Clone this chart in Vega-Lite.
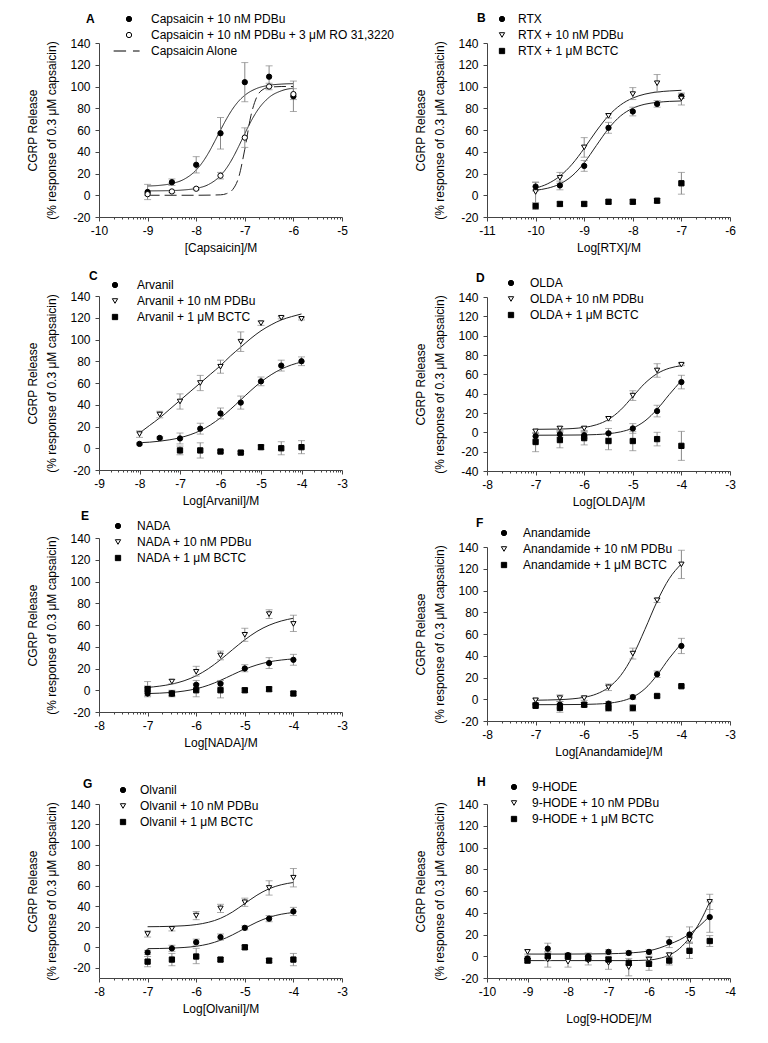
{
"autosize":{"type":"none"},
"padding":{"left":99,"top":43,"right":669,"bottom":1000},
"config":{
 "font":"Liberation Sans",
 "view":{"stroke":null},
 "axis":{"labelFontSize":12,"titleFontSize":12,"titleFontWeight":"normal","labelColor":"black","titleColor":"black","domainColor":"#444","tickColor":"#444","grid":false,"labelFlush":false,"labelOverlap":false},
 "legend":{"orient":"none","labelFontSize":12,"labelColor":"black","padding":0,"rowPadding":4,"symbolStrokeColor":"black","symbolStrokeWidth":1,"labelLimit":0,"symbolSize":28},
 "title":{"fontSize":12,"fontWeight":"bold","anchor":"start","frame":"group","color":"black","baseline":"bottom"}
},
"datasets":{
"pts":[
{"p":"A","s":"Capsaicin + 10 nM PDBu","x":-9,"y":3,"lo":-4,"hi":10},
{"p":"A","s":"Capsaicin + 10 nM PDBu","x":-8.5,"y":12,"lo":9,"hi":15},
{"p":"A","s":"Capsaicin + 10 nM PDBu","x":-8,"y":28,"lo":20.5,"hi":35.5},
{"p":"A","s":"Capsaicin + 10 nM PDBu","x":-7.5,"y":57,"lo":42.5,"hi":71.5},
{"p":"A","s":"Capsaicin + 10 nM PDBu","x":-7,"y":104,"lo":86,"hi":122},
{"p":"A","s":"Capsaicin + 10 nM PDBu","x":-6.5,"y":109,"lo":100,"hi":119},
{"p":"A","s":"Capsaicin + 10 nM PDBu","x":-6,"y":91,"lo":77,"hi":105},
{"p":"A","s":"Capsaicin + 10 nM PDBu + 3 μM RO 31,3220","x":-9,"y":1,"lo":0,"hi":2},
{"p":"A","s":"Capsaicin + 10 nM PDBu + 3 μM RO 31,3220","x":-8.5,"y":3.5,"lo":2.5,"hi":4.5},
{"p":"A","s":"Capsaicin + 10 nM PDBu + 3 μM RO 31,3220","x":-8,"y":6,"lo":5,"hi":7},
{"p":"A","s":"Capsaicin + 10 nM PDBu + 3 μM RO 31,3220","x":-7.5,"y":18,"lo":15,"hi":21},
{"p":"A","s":"Capsaicin + 10 nM PDBu + 3 μM RO 31,3220","x":-7,"y":53,"lo":44,"hi":62},
{"p":"A","s":"Capsaicin + 10 nM PDBu + 3 μM RO 31,3220","x":-6.5,"y":100,"lo":97,"hi":103},
{"p":"A","s":"Capsaicin + 10 nM PDBu + 3 μM RO 31,3220","x":-6,"y":93,"lo":88,"hi":98},
{"p":"B","s":"RTX","x":-10,"y":8,"lo":4,"hi":12},
{"p":"B","s":"RTX","x":-9.5,"y":9,"lo":5,"hi":13},
{"p":"B","s":"RTX","x":-9,"y":27,"lo":22,"hi":32},
{"p":"B","s":"RTX","x":-8.5,"y":62,"lo":57,"hi":67},
{"p":"B","s":"RTX","x":-8,"y":77,"lo":73,"hi":81},
{"p":"B","s":"RTX","x":-7.5,"y":84,"lo":81,"hi":87},
{"p":"B","s":"RTX","x":-7,"y":91,"lo":89,"hi":93},
{"p":"B","s":"RTX + 10 nM PDBu","x":-10,"y":3,"lo":-7,"hi":12},
{"p":"B","s":"RTX + 10 nM PDBu","x":-9.5,"y":16,"lo":11,"hi":21},
{"p":"B","s":"RTX + 10 nM PDBu","x":-9,"y":44,"lo":35,"hi":53},
{"p":"B","s":"RTX + 10 nM PDBu","x":-8.5,"y":73,"lo":71,"hi":75},
{"p":"B","s":"RTX + 10 nM PDBu","x":-8,"y":93,"lo":88,"hi":99},
{"p":"B","s":"RTX + 10 nM PDBu","x":-7.5,"y":103,"lo":95,"hi":111},
{"p":"B","s":"RTX + 10 nM PDBu","x":-7,"y":89,"lo":83,"hi":94},
{"p":"B","s":"RTX + 1 μM BCTC","x":-10,"y":-10,"lo":-13,"hi":-7},
{"p":"B","s":"RTX + 1 μM BCTC","x":-9.5,"y":-8,"lo":-10,"hi":-6},
{"p":"B","s":"RTX + 1 μM BCTC","x":-9,"y":-8,"lo":-10,"hi":-6},
{"p":"B","s":"RTX + 1 μM BCTC","x":-8.5,"y":-6,"lo":-8,"hi":-4},
{"p":"B","s":"RTX + 1 μM BCTC","x":-8,"y":-6,"lo":-8,"hi":-4},
{"p":"B","s":"RTX + 1 μM BCTC","x":-7.5,"y":-5,"lo":-7,"hi":-3},
{"p":"B","s":"RTX + 1 μM BCTC","x":-7,"y":11,"lo":1,"hi":21},
{"p":"C","s":"Arvanil","x":-8,"y":4,"lo":3,"hi":5},
{"p":"C","s":"Arvanil","x":-7.5,"y":9.5,"lo":8.5,"hi":10.5},
{"p":"C","s":"Arvanil","x":-7,"y":9,"lo":4,"hi":14},
{"p":"C","s":"Arvanil","x":-6.5,"y":18,"lo":13,"hi":23},
{"p":"C","s":"Arvanil","x":-6,"y":32,"lo":27,"hi":37},
{"p":"C","s":"Arvanil","x":-5.5,"y":42,"lo":36,"hi":48},
{"p":"C","s":"Arvanil","x":-5,"y":61.5,"lo":57.5,"hi":65.5},
{"p":"C","s":"Arvanil","x":-4.5,"y":76,"lo":71,"hi":81},
{"p":"C","s":"Arvanil","x":-4,"y":80,"lo":76,"hi":84},
{"p":"C","s":"Arvanil + 10 nM PDBu","x":-8,"y":13,"lo":10,"hi":16},
{"p":"C","s":"Arvanil + 10 nM PDBu","x":-7.5,"y":31,"lo":28,"hi":34},
{"p":"C","s":"Arvanil + 10 nM PDBu","x":-7,"y":43,"lo":36,"hi":50},
{"p":"C","s":"Arvanil + 10 nM PDBu","x":-6.5,"y":60,"lo":53,"hi":67},
{"p":"C","s":"Arvanil + 10 nM PDBu","x":-6,"y":75,"lo":69,"hi":81},
{"p":"C","s":"Arvanil + 10 nM PDBu","x":-5.5,"y":98,"lo":89,"hi":107},
{"p":"C","s":"Arvanil + 10 nM PDBu","x":-5,"y":115,"lo":113,"hi":117},
{"p":"C","s":"Arvanil + 10 nM PDBu","x":-4.5,"y":120,"lo":119,"hi":121},
{"p":"C","s":"Arvanil + 10 nM PDBu","x":-4,"y":119,"lo":118,"hi":120},
{"p":"C","s":"Arvanil + 1 μM BCTC","x":-7,"y":-2,"lo":-6,"hi":2},
{"p":"C","s":"Arvanil + 1 μM BCTC","x":-6.5,"y":-2,"lo":-9,"hi":5},
{"p":"C","s":"Arvanil + 1 μM BCTC","x":-6,"y":-3,"lo":-4,"hi":-2},
{"p":"C","s":"Arvanil + 1 μM BCTC","x":-5.5,"y":-4,"lo":-5,"hi":-3},
{"p":"C","s":"Arvanil + 1 μM BCTC","x":-5,"y":1,"lo":-1,"hi":3},
{"p":"C","s":"Arvanil + 1 μM BCTC","x":-4.5,"y":0,"lo":-6,"hi":6},
{"p":"C","s":"Arvanil + 1 μM BCTC","x":-4,"y":1,"lo":-5,"hi":7},
{"p":"D","s":"OLDA","x":-7,"y":-4,"lo":-7,"hi":-1},
{"p":"D","s":"OLDA","x":-6.5,"y":-2,"lo":-5,"hi":1},
{"p":"D","s":"OLDA","x":-6,"y":-3,"lo":-6,"hi":0},
{"p":"D","s":"OLDA","x":-5.5,"y":-1,"lo":-6,"hi":4},
{"p":"D","s":"OLDA","x":-5,"y":4,"lo":-1,"hi":9},
{"p":"D","s":"OLDA","x":-4.5,"y":22,"lo":16,"hi":28},
{"p":"D","s":"OLDA","x":-4,"y":52,"lo":45,"hi":59},
{"p":"D","s":"OLDA + 10 nM PDBu","x":-7,"y":1,"lo":-1,"hi":3},
{"p":"D","s":"OLDA + 10 nM PDBu","x":-6.5,"y":4,"lo":2,"hi":6},
{"p":"D","s":"OLDA + 10 nM PDBu","x":-6,"y":4,"lo":2,"hi":6},
{"p":"D","s":"OLDA + 10 nM PDBu","x":-5.5,"y":14,"lo":12,"hi":16},
{"p":"D","s":"OLDA + 10 nM PDBu","x":-5,"y":38,"lo":33,"hi":43},
{"p":"D","s":"OLDA + 10 nM PDBu","x":-4.5,"y":64,"lo":57,"hi":71},
{"p":"D","s":"OLDA + 10 nM PDBu","x":-4,"y":70,"lo":69,"hi":71},
{"p":"D","s":"OLDA + 1 μM BCTC","x":-7,"y":-10,"lo":-20,"hi":0},
{"p":"D","s":"OLDA + 1 μM BCTC","x":-6.5,"y":-8,"lo":-16,"hi":0},
{"p":"D","s":"OLDA + 1 μM BCTC","x":-6,"y":-6,"lo":-13,"hi":1},
{"p":"D","s":"OLDA + 1 μM BCTC","x":-5.5,"y":-9,"lo":-18,"hi":0},
{"p":"D","s":"OLDA + 1 μM BCTC","x":-5,"y":-9,"lo":-19,"hi":1},
{"p":"D","s":"OLDA + 1 μM BCTC","x":-4.5,"y":-7,"lo":-14,"hi":0},
{"p":"D","s":"OLDA + 1 μM BCTC","x":-4,"y":-14,"lo":-29,"hi":1},
{"p":"E","s":"NADA","x":-7,"y":-3,"lo":-5,"hi":-1},
{"p":"E","s":"NADA","x":-6.5,"y":-3,"lo":-6,"hi":0},
{"p":"E","s":"NADA","x":-6,"y":5,"lo":1,"hi":9},
{"p":"E","s":"NADA","x":-5.5,"y":6,"lo":3,"hi":9},
{"p":"E","s":"NADA","x":-5,"y":20,"lo":17,"hi":23.5},
{"p":"E","s":"NADA","x":-4.5,"y":25,"lo":20,"hi":30},
{"p":"E","s":"NADA","x":-4,"y":28,"lo":23,"hi":33},
{"p":"E","s":"NADA + 10 nM PDBu","x":-7,"y":1,"lo":-6,"hi":8},
{"p":"E","s":"NADA + 10 nM PDBu","x":-6.5,"y":8,"lo":6,"hi":10},
{"p":"E","s":"NADA + 10 nM PDBu","x":-6,"y":17,"lo":13,"hi":22},
{"p":"E","s":"NADA + 10 nM PDBu","x":-5.5,"y":32,"lo":28,"hi":36},
{"p":"E","s":"NADA + 10 nM PDBu","x":-5,"y":51,"lo":45,"hi":57},
{"p":"E","s":"NADA + 10 nM PDBu","x":-4.5,"y":70,"lo":66,"hi":74},
{"p":"E","s":"NADA + 10 nM PDBu","x":-4,"y":61,"lo":54,"hi":69},
{"p":"E","s":"NADA + 1 μM BCTC","x":-7,"y":1,"lo":-2,"hi":4},
{"p":"E","s":"NADA + 1 μM BCTC","x":-6.5,"y":-3,"lo":-5,"hi":-1},
{"p":"E","s":"NADA + 1 μM BCTC","x":-6,"y":0,"lo":-6,"hi":6},
{"p":"E","s":"NADA + 1 μM BCTC","x":-5.5,"y":0,"lo":-7,"hi":7},
{"p":"E","s":"NADA + 1 μM BCTC","x":-5,"y":0,"lo":-2,"hi":2},
{"p":"E","s":"NADA + 1 μM BCTC","x":-4.5,"y":1,"lo":-1,"hi":3},
{"p":"E","s":"NADA + 1 μM BCTC","x":-4,"y":-3,"lo":-5,"hi":-1},
{"p":"F","s":"Anandamide","x":-7,"y":-5,"lo":-7,"hi":-3},
{"p":"F","s":"Anandamide","x":-6.5,"y":-5,"lo":-8,"hi":-2},
{"p":"F","s":"Anandamide","x":-6,"y":-5,"lo":-7,"hi":-3},
{"p":"F","s":"Anandamide","x":-5.5,"y":-4,"lo":-6,"hi":-2},
{"p":"F","s":"Anandamide","x":-5,"y":2,"lo":0,"hi":4},
{"p":"F","s":"Anandamide","x":-4.5,"y":23,"lo":20,"hi":26},
{"p":"F","s":"Anandamide","x":-4,"y":49,"lo":42,"hi":56},
{"p":"F","s":"Anandamide + 10 nM PDBu","x":-7,"y":-1,"lo":-3,"hi":1},
{"p":"F","s":"Anandamide + 10 nM PDBu","x":-6.5,"y":1,"lo":-2,"hi":4},
{"p":"F","s":"Anandamide + 10 nM PDBu","x":-6,"y":1,"lo":-1,"hi":3},
{"p":"F","s":"Anandamide + 10 nM PDBu","x":-5.5,"y":11,"lo":8,"hi":14},
{"p":"F","s":"Anandamide + 10 nM PDBu","x":-5,"y":42,"lo":37,"hi":47},
{"p":"F","s":"Anandamide + 10 nM PDBu","x":-4.5,"y":91,"lo":89,"hi":93},
{"p":"F","s":"Anandamide + 10 nM PDBu","x":-4,"y":124,"lo":111,"hi":137},
{"p":"F","s":"Anandamide + 1 μM BCTC","x":-7,"y":-6,"lo":-8,"hi":-4},
{"p":"F","s":"Anandamide + 1 μM BCTC","x":-6.5,"y":-8,"lo":-12,"hi":-4},
{"p":"F","s":"Anandamide + 1 μM BCTC","x":-6,"y":-5,"lo":-7,"hi":-3},
{"p":"F","s":"Anandamide + 1 μM BCTC","x":-5.5,"y":-8,"lo":-11,"hi":-5},
{"p":"F","s":"Anandamide + 1 μM BCTC","x":-5,"y":-8,"lo":-11,"hi":-5},
{"p":"F","s":"Anandamide + 1 μM BCTC","x":-4.5,"y":3,"lo":2,"hi":4},
{"p":"F","s":"Anandamide + 1 μM BCTC","x":-4,"y":12,"lo":11,"hi":13},
{"p":"G","s":"Olvanil","x":-7,"y":-5,"lo":-7,"hi":-3},
{"p":"G","s":"Olvanil","x":-6.5,"y":-1,"lo":-4,"hi":2},
{"p":"G","s":"Olvanil","x":-6,"y":5,"lo":2,"hi":8},
{"p":"G","s":"Olvanil","x":-5.5,"y":10,"lo":7,"hi":13},
{"p":"G","s":"Olvanil","x":-5,"y":19,"lo":17,"hi":21},
{"p":"G","s":"Olvanil","x":-4.5,"y":28,"lo":25,"hi":31},
{"p":"G","s":"Olvanil","x":-4,"y":35,"lo":31,"hi":39},
{"p":"G","s":"Olvanil + 10 nM PDBu","x":-7,"y":13,"lo":10,"hi":16},
{"p":"G","s":"Olvanil + 10 nM PDBu","x":-6.5,"y":18,"lo":16,"hi":20},
{"p":"G","s":"Olvanil + 10 nM PDBu","x":-6,"y":31,"lo":27,"hi":35},
{"p":"G","s":"Olvanil + 10 nM PDBu","x":-5.5,"y":38,"lo":34,"hi":42},
{"p":"G","s":"Olvanil + 10 nM PDBu","x":-5,"y":44,"lo":40,"hi":48},
{"p":"G","s":"Olvanil + 10 nM PDBu","x":-4.5,"y":58,"lo":51,"hi":65},
{"p":"G","s":"Olvanil + 10 nM PDBu","x":-4,"y":68,"lo":59,"hi":77},
{"p":"G","s":"Olvanil + 1 μM BCTC","x":-7,"y":-14,"lo":-19,"hi":-9},
{"p":"G","s":"Olvanil + 1 μM BCTC","x":-6.5,"y":-12,"lo":-18,"hi":-6},
{"p":"G","s":"Olvanil + 1 μM BCTC","x":-6,"y":-9,"lo":-16,"hi":-1},
{"p":"G","s":"Olvanil + 1 μM BCTC","x":-5.5,"y":-12,"lo":-14,"hi":-10},
{"p":"G","s":"Olvanil + 1 μM BCTC","x":-5,"y":0,"lo":-2,"hi":2},
{"p":"G","s":"Olvanil + 1 μM BCTC","x":-4.5,"y":-13,"lo":-15,"hi":-11},
{"p":"G","s":"Olvanil + 1 μM BCTC","x":-4,"y":-12,"lo":-18,"hi":-6},
{"p":"H","s":"9-HODE","x":-9,"y":-2,"lo":-4,"hi":0},
{"p":"H","s":"9-HODE","x":-8.5,"y":7,"lo":2,"hi":12},
{"p":"H","s":"9-HODE","x":-8,"y":1,"lo":-1,"hi":3},
{"p":"H","s":"9-HODE","x":-7.5,"y":0,"lo":-3,"hi":3},
{"p":"H","s":"9-HODE","x":-7,"y":4,"lo":2,"hi":6},
{"p":"H","s":"9-HODE","x":-6.5,"y":3,"lo":1,"hi":5},
{"p":"H","s":"9-HODE","x":-6,"y":4,"lo":2,"hi":6},
{"p":"H","s":"9-HODE","x":-5.5,"y":13,"lo":8,"hi":18},
{"p":"H","s":"9-HODE","x":-5,"y":20,"lo":13,"hi":27},
{"p":"H","s":"9-HODE","x":-4.5,"y":36,"lo":22,"hi":50},
{"p":"H","s":"9-HODE + 10 nM PDBu","x":-9,"y":4,"lo":2,"hi":6},
{"p":"H","s":"9-HODE + 10 nM PDBu","x":-8.5,"y":-3,"lo":-10,"hi":4},
{"p":"H","s":"9-HODE + 10 nM PDBu","x":-8,"y":-5,"lo":-10,"hi":0},
{"p":"H","s":"9-HODE + 10 nM PDBu","x":-7.5,"y":-4,"lo":-8,"hi":0},
{"p":"H","s":"9-HODE + 10 nM PDBu","x":-7,"y":-6,"lo":-12,"hi":0},
{"p":"H","s":"9-HODE + 10 nM PDBu","x":-6.5,"y":-10,"lo":-18,"hi":-2},
{"p":"H","s":"9-HODE + 10 nM PDBu","x":-6,"y":-3,"lo":-6,"hi":0},
{"p":"H","s":"9-HODE + 10 nM PDBu","x":-5.5,"y":1,"lo":-1,"hi":3},
{"p":"H","s":"9-HODE + 10 nM PDBu","x":-5,"y":15,"lo":12,"hi":18},
{"p":"H","s":"9-HODE + 10 nM PDBu","x":-4.5,"y":50,"lo":43,"hi":57},
{"p":"H","s":"9-HODE + 1 μM BCTC","x":-9,"y":-4,"lo":-6,"hi":-2},
{"p":"H","s":"9-HODE + 1 μM BCTC","x":-8.5,"y":0,"lo":-4,"hi":4},
{"p":"H","s":"9-HODE + 1 μM BCTC","x":-8,"y":0,"lo":-2,"hi":2},
{"p":"H","s":"9-HODE + 1 μM BCTC","x":-7.5,"y":-2,"lo":-4,"hi":0},
{"p":"H","s":"9-HODE + 1 μM BCTC","x":-7,"y":-3,"lo":-5,"hi":-1},
{"p":"H","s":"9-HODE + 1 μM BCTC","x":-6.5,"y":-6,"lo":-8,"hi":-4},
{"p":"H","s":"9-HODE + 1 μM BCTC","x":-6,"y":-7,"lo":-13,"hi":-1},
{"p":"H","s":"9-HODE + 1 μM BCTC","x":-5.5,"y":-4,"lo":-8,"hi":0},
{"p":"H","s":"9-HODE + 1 μM BCTC","x":-5,"y":5,"lo":-2,"hi":12},
{"p":"H","s":"9-HODE + 1 μM BCTC","x":-4.5,"y":14,"lo":9,"hi":19}
],
"curves":[
{"p":"A","s":"c1","x":-9,"y":8.5},{"p":"A","s":"c1","x":-8.75,"y":9.1},{"p":"A","s":"c1","x":-8.5,"y":10.8},{"p":"A","s":"c1","x":-8.25,"y":14.7},{"p":"A","s":"c1","x":-8,"y":23.2},{"p":"A","s":"c1","x":-7.875,"y":30},{"p":"A","s":"c1","x":-7.75,"y":38.7},{"p":"A","s":"c1","x":-7.625,"y":49},{"p":"A","s":"c1","x":-7.5,"y":59.9},{"p":"A","s":"c1","x":-7.375,"y":70.3},{"p":"A","s":"c1","x":-7.25,"y":79.4},{"p":"A","s":"c1","x":-7.125,"y":86.6},{"p":"A","s":"c1","x":-7,"y":91.9},{"p":"A","s":"c1","x":-6.75,"y":98.3},{"p":"A","s":"c1","x":-6.5,"y":101.1},{"p":"A","s":"c1","x":-6.25,"y":102.2},{"p":"A","s":"c1","x":-6,"y":102.6},
{"p":"A","s":"c2","x":-9,"y":4},{"p":"A","s":"c2","x":-8.5,"y":4.3},{"p":"A","s":"c2","x":-8.25,"y":4.9},{"p":"A","s":"c2","x":-8,"y":6.3},{"p":"A","s":"c2","x":-7.75,"y":9.8},{"p":"A","s":"c2","x":-7.5,"y":18.1},{"p":"A","s":"c2","x":-7.375,"y":25},{"p":"A","s":"c2","x":-7.25,"y":34.1},{"p":"A","s":"c2","x":-7.125,"y":45},{"p":"A","s":"c2","x":-7,"y":56.7},{"p":"A","s":"c2","x":-6.875,"y":67.8},{"p":"A","s":"c2","x":-6.75,"y":77.3},{"p":"A","s":"c2","x":-6.5,"y":90},{"p":"A","s":"c2","x":-6.25,"y":96},{"p":"A","s":"c2","x":-6,"y":98.5},
{"p":"A","s":"c3","x":-9,"y":0},{"p":"A","s":"c3","x":-8,"y":0},{"p":"A","s":"c3","x":-7.5,"y":0.4},{"p":"A","s":"c3","x":-7.375,"y":1.5},{"p":"A","s":"c3","x":-7.25,"y":5.2},{"p":"A","s":"c3","x":-7.125,"y":16.6},{"p":"A","s":"c3","x":-7,"y":42.3},{"p":"A","s":"c3","x":-6.875,"y":73},{"p":"A","s":"c3","x":-6.75,"y":90.7},{"p":"A","s":"c3","x":-6.625,"y":97.3},{"p":"A","s":"c3","x":-6.5,"y":99.2},{"p":"A","s":"c3","x":-6.25,"y":100},{"p":"A","s":"c3","x":-6,"y":100},
{"p":"B","s":"c1","x":-10,"y":4.6},{"p":"B","s":"c1","x":-9.75,"y":6.5},{"p":"B","s":"c1","x":-9.5,"y":10.4},{"p":"B","s":"c1","x":-9.25,"y":17.8},{"p":"B","s":"c1","x":-9,"y":29.8},{"p":"B","s":"c1","x":-8.75,"y":45.7},{"p":"B","s":"c1","x":-8.5,"y":61.3},{"p":"B","s":"c1","x":-8.25,"y":73},{"p":"B","s":"c1","x":-8,"y":80},{"p":"B","s":"c1","x":-7.75,"y":83.7},{"p":"B","s":"c1","x":-7.5,"y":85.4},{"p":"B","s":"c1","x":-7.25,"y":86.3},{"p":"B","s":"c1","x":-7,"y":86.7},
{"p":"B","s":"c2","x":-10,"y":6.5},{"p":"B","s":"c2","x":-9.75,"y":10.6},{"p":"B","s":"c2","x":-9.5,"y":17.6},{"p":"B","s":"c2","x":-9.25,"y":28.5},{"p":"B","s":"c2","x":-9,"y":43.1},{"p":"B","s":"c2","x":-8.75,"y":59.1},{"p":"B","s":"c2","x":-8.5,"y":73.1},{"p":"B","s":"c2","x":-8.25,"y":83.1},{"p":"B","s":"c2","x":-8,"y":89.4},{"p":"B","s":"c2","x":-7.75,"y":93},{"p":"B","s":"c2","x":-7.5,"y":94.9},{"p":"B","s":"c2","x":-7.25,"y":95.9},{"p":"B","s":"c2","x":-7,"y":96.5},
{"p":"C","s":"c1","x":-8,"y":5.1},{"p":"C","s":"c1","x":-7.75,"y":5.6},{"p":"C","s":"c1","x":-7.5,"y":6.5},{"p":"C","s":"c1","x":-7.25,"y":7.8},{"p":"C","s":"c1","x":-7,"y":9.7},{"p":"C","s":"c1","x":-6.75,"y":12.4},{"p":"C","s":"c1","x":-6.5,"y":16.2},{"p":"C","s":"c1","x":-6.25,"y":21.4},{"p":"C","s":"c1","x":-6,"y":28},{"p":"C","s":"c1","x":-5.75,"y":35.9},{"p":"C","s":"c1","x":-5.5,"y":44.5},{"p":"C","s":"c1","x":-5.25,"y":53.1},{"p":"C","s":"c1","x":-5,"y":61},{"p":"C","s":"c1","x":-4.75,"y":67.6},{"p":"C","s":"c1","x":-4.5,"y":72.8},{"p":"C","s":"c1","x":-4.25,"y":76.6},{"p":"C","s":"c1","x":-4,"y":79.3},
{"p":"C","s":"c2","x":-8,"y":14},{"p":"C","s":"c2","x":-7.75,"y":21},{"p":"C","s":"c2","x":-7.5,"y":28},{"p":"C","s":"c2","x":-7.25,"y":36},{"p":"C","s":"c2","x":-7,"y":44},{"p":"C","s":"c2","x":-6.75,"y":52},{"p":"C","s":"c2","x":-6.5,"y":60},{"p":"C","s":"c2","x":-6.25,"y":68},{"p":"C","s":"c2","x":-6,"y":76},{"p":"C","s":"c2","x":-5.75,"y":85},{"p":"C","s":"c2","x":-5.5,"y":93},{"p":"C","s":"c2","x":-5.25,"y":101},{"p":"C","s":"c2","x":-5,"y":108},{"p":"C","s":"c2","x":-4.75,"y":113.5},{"p":"C","s":"c2","x":-4.5,"y":118},{"p":"C","s":"c2","x":-4.25,"y":121},{"p":"C","s":"c2","x":-4,"y":123.5},
{"p":"D","s":"c1","x":-7,"y":-3},{"p":"D","s":"c1","x":-6.5,"y":-2.9},{"p":"D","s":"c1","x":-6,"y":-2.7},{"p":"D","s":"c1","x":-5.75,"y":-2.3},{"p":"D","s":"c1","x":-5.5,"y":-1.4},{"p":"D","s":"c1","x":-5.25,"y":0.5},{"p":"D","s":"c1","x":-5,"y":4.4},{"p":"D","s":"c1","x":-4.75,"y":11.8},{"p":"D","s":"c1","x":-4.5,"y":23.8},{"p":"D","s":"c1","x":-4.25,"y":39.1},{"p":"D","s":"c1","x":-4,"y":53.5},
{"p":"D","s":"c2","x":-7,"y":3.1},{"p":"D","s":"c2","x":-6.5,"y":3.4},{"p":"D","s":"c2","x":-6,"y":5.1},{"p":"D","s":"c2","x":-5.75,"y":7.8},{"p":"D","s":"c2","x":-5.5,"y":13.3},{"p":"D","s":"c2","x":-5.25,"y":23.2},{"p":"D","s":"c2","x":-5,"y":37},{"p":"D","s":"c2","x":-4.75,"y":50.8},{"p":"D","s":"c2","x":-4.5,"y":60.7},{"p":"D","s":"c2","x":-4.25,"y":66.3},{"p":"D","s":"c2","x":-4,"y":68.9},
{"p":"E","s":"c1","x":-7,"y":-3.05},{"p":"E","s":"c1","x":-6.75,"y":-2.67},{"p":"E","s":"c1","x":-6.5,"y":-1.97},{"p":"E","s":"c1","x":-6.25,"y":-0.73},{"p":"E","s":"c1","x":-6,"y":1.36},{"p":"E","s":"c1","x":-5.75,"y":4.6},{"p":"E","s":"c1","x":-5.5,"y":9.1},{"p":"E","s":"c1","x":-5.25,"y":14.3},{"p":"E","s":"c1","x":-5,"y":19.3},{"p":"E","s":"c1","x":-4.75,"y":23.3},{"p":"E","s":"c1","x":-4.5,"y":26.1},{"p":"E","s":"c1","x":-4.25,"y":27.8},{"p":"E","s":"c1","x":-4,"y":28.8},
{"p":"E","s":"c2","x":-7,"y":2.6},{"p":"E","s":"c2","x":-6.75,"y":3.8},{"p":"E","s":"c2","x":-6.5,"y":5.7},{"p":"E","s":"c2","x":-6.25,"y":8.7},{"p":"E","s":"c2","x":-6,"y":13.3},{"p":"E","s":"c2","x":-5.75,"y":19.8},{"p":"E","s":"c2","x":-5.5,"y":28.1},{"p":"E","s":"c2","x":-5.25,"y":37.4},{"p":"E","s":"c2","x":-5,"y":46.4},{"p":"E","s":"c2","x":-4.75,"y":54.1},{"p":"E","s":"c2","x":-4.5,"y":59.8},{"p":"E","s":"c2","x":-4.25,"y":63.7},{"p":"E","s":"c2","x":-4,"y":66.2},
{"p":"F","s":"c1","x":-7,"y":-5},{"p":"F","s":"c1","x":-6.5,"y":-4.95},{"p":"F","s":"c1","x":-6,"y":-4.76},{"p":"F","s":"c1","x":-5.75,"y":-4.42},{"p":"F","s":"c1","x":-5.5,"y":-3.65},{"p":"F","s":"c1","x":-5.25,"y":-1.88},{"p":"F","s":"c1","x":-5,"y":2},{"p":"F","s":"c1","x":-4.75,"y":9.66},{"p":"F","s":"c1","x":-4.5,"y":22.2},{"p":"F","s":"c1","x":-4.25,"y":37.7},{"p":"F","s":"c1","x":-4,"y":51.2},
{"p":"F","s":"c2","x":-7,"y":-0.9},{"p":"F","s":"c2","x":-6.75,"y":-0.7},{"p":"F","s":"c2","x":-6.5,"y":-0.36},{"p":"F","s":"c2","x":-6.25,"y":0.35},{"p":"F","s":"c2","x":-6,"y":1.8},{"p":"F","s":"c2","x":-5.75,"y":4.8},{"p":"F","s":"c2","x":-5.5,"y":10.8},{"p":"F","s":"c2","x":-5.25,"y":21.8},{"p":"F","s":"c2","x":-5,"y":39.9},{"p":"F","s":"c2","x":-4.75,"y":64.3},{"p":"F","s":"c2","x":-4.5,"y":90},{"p":"F","s":"c2","x":-4.25,"y":110.9},{"p":"F","s":"c2","x":-4,"y":124.5},
{"p":"G","s":"c1","x":-7,"y":-1.33},{"p":"G","s":"c1","x":-6.5,"y":-0.83},{"p":"G","s":"c1","x":-6.25,"y":-0.18},{"p":"G","s":"c1","x":-6,"y":1},{"p":"G","s":"c1","x":-5.75,"y":3.2},{"p":"G","s":"c1","x":-5.5,"y":6.9},{"p":"G","s":"c1","x":-5.25,"y":12.2},{"p":"G","s":"c1","x":-5,"y":18.5},{"p":"G","s":"c1","x":-4.75,"y":24.6},{"p":"G","s":"c1","x":-4.5,"y":29.3},{"p":"G","s":"c1","x":-4.25,"y":32.3},{"p":"G","s":"c1","x":-4,"y":34},
{"p":"G","s":"c2","x":-7,"y":20.1},{"p":"G","s":"c2","x":-6.5,"y":20.5},{"p":"G","s":"c2","x":-6.25,"y":21.05},{"p":"G","s":"c2","x":-6,"y":22.2},{"p":"G","s":"c2","x":-5.75,"y":24.4},{"p":"G","s":"c2","x":-5.5,"y":28.3},{"p":"G","s":"c2","x":-5.25,"y":34.6},{"p":"G","s":"c2","x":-5,"y":42.75},{"p":"G","s":"c2","x":-4.75,"y":50.9},{"p":"G","s":"c2","x":-4.5,"y":57.2},{"p":"G","s":"c2","x":-4.25,"y":61.1},{"p":"G","s":"c2","x":-4,"y":63.3},
{"p":"H","s":"c1","x":-9,"y":2},{"p":"H","s":"c1","x":-8.5,"y":2},{"p":"H","s":"c1","x":-8,"y":2},{"p":"H","s":"c1","x":-7.5,"y":2.1},{"p":"H","s":"c1","x":-7,"y":2.3},{"p":"H","s":"c1","x":-6.5,"y":3},{"p":"H","s":"c1","x":-6,"y":5},{"p":"H","s":"c1","x":-5.75,"y":7.5},{"p":"H","s":"c1","x":-5.5,"y":11},{"p":"H","s":"c1","x":-5.25,"y":15},{"p":"H","s":"c1","x":-5,"y":20.5},{"p":"H","s":"c1","x":-4.75,"y":28},{"p":"H","s":"c1","x":-4.5,"y":37},
{"p":"H","s":"c2","x":-9,"y":-4},{"p":"H","s":"c2","x":-8,"y":-4},{"p":"H","s":"c2","x":-7,"y":-4},{"p":"H","s":"c2","x":-6.5,"y":-4},{"p":"H","s":"c2","x":-6,"y":-3.5},{"p":"H","s":"c2","x":-5.75,"y":-2},{"p":"H","s":"c2","x":-5.5,"y":1},{"p":"H","s":"c2","x":-5.25,"y":7},{"p":"H","s":"c2","x":-5,"y":17},{"p":"H","s":"c2","x":-4.75,"y":31},{"p":"H","s":"c2","x":-4.5,"y":50}
]
},
"bounds":"flush",
"spacing":388,
"resolve":{"scale":{"shape":"independent","fill":"independent","stroke":"independent","strokeDash":"independent"},"legend":{"shape":"independent","fill":"independent","stroke":"independent"}},
"hconcat":[
{"bounds":"flush","spacing":79,
 "resolve":{"scale":{"shape":"independent","fill":"independent","stroke":"independent","strokeDash":"independent"},"legend":{"shape":"independent","fill":"independent","stroke":"independent"}},
 "vconcat":[
 {"width":243,"height":174,"title":{"text":"A","dx":-13,"offset":-12.5},
  "encoding":{"x":{"field":"x","type":"quantitative","scale":{"domain":[-10,-5],"nice":false,"zero":false},
   "axis":{"title":"[Capsaicin]/M","values":[-10,-9,-8,-7,-6,-5,-9.699,-9.523,-9.398,-9.301,-9.222,-9.155,-9.097,-9.046,-8.699,-8.523,-8.398,-8.301,-8.222,-8.155,-8.097,-8.046,-7.699,-7.523,-7.398,-7.301,-7.222,-7.155,-7.097,-7.046,-6.699,-6.523,-6.398,-6.301,-6.222,-6.155,-6.097,-6.046,-5.699,-5.523,-5.398,-5.301,-5.222,-5.155,-5.097,-5.046],
    "labelExpr":"datum.value % 1 === 0 ? '' + datum.value : ''","tickSize":{"condition":{"test":"datum.value % 1 === 0","value":4},"value":2},"labelPadding":4,"titlePadding":6,"labelOverlap":false}}},
  "layer":[
   {"data":{"name":"curves"},"transform":[{"filter":{"field":"p","equal":"A"}}],
    "mark":{"type":"line","interpolate":"monotone","color":"#222","strokeWidth":1},
    "encoding":{"y":{"field":"y","type":"quantitative","scale":{"domain":[-20,140],"nice":false,"zero":false},
      "axis":{"title":["CGRP Release","(% response of 0.3 μM capsaicin)"],"values":[-20,0,20,40,60,80,100,120,140],"labelExpr":"'' + datum.value","tickSize":4,"labelPadding":5,"titlePadding":11,"titleLineHeight":19,"labelOverlap":false}},
     "strokeDash":{"field":"s","type":"nominal","scale":{"domain":["c1","c2","c3"],"range":[[1,0],[1,0],[12,5]]},"legend":null}}},
   {"data":{"name":"pts"},"transform":[{"filter":{"field":"p","equal":"A"}}],
    "mark":{"type":"rule","color":"#888","strokeWidth":1},
    "encoding":{"y":{"field":"lo","type":"quantitative","scale":{"domain":[-20,140],"nice":false,"zero":false},
      "axis":{"title":["CGRP Release","(% response of 0.3 μM capsaicin)"],"values":[-20,0,20,40,60,80,100,120,140],"labelExpr":"'' + datum.value","tickSize":4,"labelPadding":5,"titlePadding":11,"titleLineHeight":19,"labelOverlap":false}},"y2":{"field":"hi"}}},
   {"data":{"name":"pts"},"transform":[{"filter":{"field":"p","equal":"A"}}],
    "mark":{"type":"tick","orient":"horizontal","size":7,"thickness":1,"color":"#888"},
    "encoding":{"y":{"field":"lo","type":"quantitative","scale":{"domain":[-20,140],"nice":false,"zero":false},
      "axis":{"title":["CGRP Release","(% response of 0.3 μM capsaicin)"],"values":[-20,0,20,40,60,80,100,120,140],"labelExpr":"'' + datum.value","tickSize":4,"labelPadding":5,"titlePadding":11,"titleLineHeight":19,"labelOverlap":false}}}},
   {"data":{"name":"pts"},"transform":[{"filter":{"field":"p","equal":"A"}}],
    "mark":{"type":"tick","orient":"horizontal","size":7,"thickness":1,"color":"#888"},
    "encoding":{"y":{"field":"hi","type":"quantitative","scale":{"domain":[-20,140],"nice":false,"zero":false},
      "axis":{"title":["CGRP Release","(% response of 0.3 μM capsaicin)"],"values":[-20,0,20,40,60,80,100,120,140],"labelExpr":"'' + datum.value","tickSize":4,"labelPadding":5,"titlePadding":11,"titleLineHeight":19,"labelOverlap":false}}}},
   {"data":{"name":"pts"},"transform":[{"filter":{"field":"p","equal":"A"}}],
    "mark":{"type":"point","filled":true,"opacity":1,"strokeWidth":1,"size":28},
    "encoding":{"y":{"field":"y","type":"quantitative","scale":{"domain":[-20,140],"nice":false,"zero":false},
      "axis":{"title":["CGRP Release","(% response of 0.3 μM capsaicin)"],"values":[-20,0,20,40,60,80,100,120,140],"labelExpr":"'' + datum.value","tickSize":4,"labelPadding":5,"titlePadding":11,"titleLineHeight":19,"labelOverlap":false}},
     "shape":{"field":"s","type":"nominal","scale":{"domain":["Capsaicin + 10 nM PDBu","Capsaicin + 10 nM PDBu + 3 μM RO 31,3220","Capsaicin Alone"],"range":["circle","circle","M-5.8,0H-1.1M1.5,0H4"]},"legend":{"title":null,"legendX":24,"legendY":-30,"labelOffset":16}},
     "fill":{"field":"s","type":"nominal","scale":{"domain":["Capsaicin + 10 nM PDBu","Capsaicin + 10 nM PDBu + 3 μM RO 31,3220","Capsaicin Alone"],"range":["black","white","transparent"]},"legend":{"title":null,"legendX":24,"legendY":-30,"labelOffset":16}},
     "stroke":{"field":"s","type":"nominal","scale":{"domain":["Capsaicin + 10 nM PDBu","Capsaicin + 10 nM PDBu + 3 μM RO 31,3220","Capsaicin Alone"],"range":["black","black","black"]},"legend":{"title":null,"legendX":24,"legendY":-30,"labelOffset":16}}}}
  ]},
 {"bounds":"flush","spacing":68,
  "resolve":{"scale":{"shape":"independent","fill":"independent","stroke":"independent","strokeDash":"independent"},"legend":{"shape":"independent","fill":"independent","stroke":"independent"}},
  "vconcat":[
  {"width":243,"height":174,"title":{"text":"C","dx":-10,"offset":-3.5},
   "encoding":{"x":{"field":"x","type":"quantitative","scale":{"domain":[-9,-3],"nice":false,"zero":false},
    "axis":{"title":"Log[Arvanil]/M","values":[-9,-8,-7,-6,-5,-4,-3,-8.699,-8.523,-8.398,-8.301,-8.222,-8.155,-8.097,-8.046,-7.699,-7.523,-7.398,-7.301,-7.222,-7.155,-7.097,-7.046,-6.699,-6.523,-6.398,-6.301,-6.222,-6.155,-6.097,-6.046,-5.699,-5.523,-5.398,-5.301,-5.222,-5.155,-5.097,-5.046,-4.699,-4.523,-4.398,-4.301,-4.222,-4.155,-4.097,-4.046,-3.699,-3.523,-3.398,-3.301,-3.222,-3.155,-3.097,-3.046],
     "labelExpr":"datum.value % 1 === 0 ? '' + datum.value : ''","tickSize":{"condition":{"test":"datum.value % 1 === 0","value":4},"value":2},"labelPadding":4,"titlePadding":6,"labelOverlap":false}}},
   "layer":[
    {"data":{"name":"curves"},"transform":[{"filter":{"field":"p","equal":"C"}}],
     "mark":{"type":"line","interpolate":"monotone","color":"#222","strokeWidth":1},
     "encoding":{"y":{"field":"y","type":"quantitative","scale":{"domain":[-20,140],"nice":false,"zero":false},
       "axis":{"title":["CGRP Release","(% response of 0.3 μM capsaicin)"],"values":[-20,0,20,40,60,80,100,120,140],"labelExpr":"'' + datum.value","tickSize":4,"labelPadding":5,"titlePadding":11,"titleLineHeight":19,"labelOverlap":false}},
      "detail":{"field":"s"}}},
    {"data":{"name":"pts"},"transform":[{"filter":{"field":"p","equal":"C"}}],
     "mark":{"type":"rule","color":"#888","strokeWidth":1},
     "encoding":{"y":{"field":"lo","type":"quantitative","scale":{"domain":[-20,140],"nice":false,"zero":false},
       "axis":{"title":["CGRP Release","(% response of 0.3 μM capsaicin)"],"values":[-20,0,20,40,60,80,100,120,140],"labelExpr":"'' + datum.value","tickSize":4,"labelPadding":5,"titlePadding":11,"titleLineHeight":19,"labelOverlap":false}},"y2":{"field":"hi"}}},
    {"data":{"name":"pts"},"transform":[{"filter":{"field":"p","equal":"C"}}],
     "mark":{"type":"tick","orient":"horizontal","size":7,"thickness":1,"color":"#888"},
     "encoding":{"y":{"field":"lo","type":"quantitative","scale":{"domain":[-20,140],"nice":false,"zero":false},
       "axis":{"title":["CGRP Release","(% response of 0.3 μM capsaicin)"],"values":[-20,0,20,40,60,80,100,120,140],"labelExpr":"'' + datum.value","tickSize":4,"labelPadding":5,"titlePadding":11,"titleLineHeight":19,"labelOverlap":false}}}},
    {"data":{"name":"pts"},"transform":[{"filter":{"field":"p","equal":"C"}}],
     "mark":{"type":"tick","orient":"horizontal","size":7,"thickness":1,"color":"#888"},
     "encoding":{"y":{"field":"hi","type":"quantitative","scale":{"domain":[-20,140],"nice":false,"zero":false},
       "axis":{"title":["CGRP Release","(% response of 0.3 μM capsaicin)"],"values":[-20,0,20,40,60,80,100,120,140],"labelExpr":"'' + datum.value","tickSize":4,"labelPadding":5,"titlePadding":11,"titleLineHeight":19,"labelOverlap":false}}}},
    {"data":{"name":"pts"},"transform":[{"filter":{"field":"p","equal":"C"}}],
     "mark":{"type":"point","filled":true,"opacity":1,"strokeWidth":1,"size":28},
     "encoding":{"y":{"field":"y","type":"quantitative","scale":{"domain":[-20,140],"nice":false,"zero":false},
       "axis":{"title":["CGRP Release","(% response of 0.3 μM capsaicin)"],"values":[-20,0,20,40,60,80,100,120,140],"labelExpr":"'' + datum.value","tickSize":4,"labelPadding":5,"titlePadding":11,"titleLineHeight":19,"labelOverlap":false}},
      "shape":{"field":"s","type":"nominal","scale":{"domain":["Arvanil","Arvanil + 10 nM PDBu","Arvanil + 1 μM BCTC"],"range":["circle","triangle-down","square"]},"legend":{"title":null,"legendX":10,"legendY":-17,"labelOffset":16}},
      "fill":{"field":"s","type":"nominal","scale":{"domain":["Arvanil","Arvanil + 10 nM PDBu","Arvanil + 1 μM BCTC"],"range":["black","white","black"]},"legend":{"title":null,"legendX":10,"legendY":-17,"labelOffset":16}},
      "stroke":{"field":"s","type":"nominal","scale":{"domain":["Arvanil","Arvanil + 10 nM PDBu","Arvanil + 1 μM BCTC"],"range":["black","black","black"]},"legend":{"title":null,"legendX":10,"legendY":-17,"labelOffset":16}}}}
   ]},
  {"bounds":"flush","spacing":92,
   "resolve":{"scale":{"shape":"independent","fill":"independent","stroke":"independent","strokeDash":"independent"},"legend":{"shape":"independent","fill":"independent","stroke":"independent"}},
   "vconcat":[
   {"width":243,"height":174,"title":{"text":"E","dx":-18,"offset":-2.5},
    "encoding":{"x":{"field":"x","type":"quantitative","scale":{"domain":[-8,-3],"nice":false,"zero":false},
     "axis":{"title":"Log[NADA]/M","values":[-8,-7,-6,-5,-4,-3,-7.699,-7.523,-7.398,-7.301,-7.222,-7.155,-7.097,-7.046,-6.699,-6.523,-6.398,-6.301,-6.222,-6.155,-6.097,-6.046,-5.699,-5.523,-5.398,-5.301,-5.222,-5.155,-5.097,-5.046,-4.699,-4.523,-4.398,-4.301,-4.222,-4.155,-4.097,-4.046,-3.699,-3.523,-3.398,-3.301,-3.222,-3.155,-3.097,-3.046],
      "labelExpr":"datum.value % 1 === 0 ? '' + datum.value : ''","tickSize":{"condition":{"test":"datum.value % 1 === 0","value":4},"value":2},"labelPadding":4,"titlePadding":6,"labelOverlap":false}}},
    "layer":[
     {"data":{"name":"curves"},"transform":[{"filter":{"field":"p","equal":"E"}}],
      "mark":{"type":"line","interpolate":"monotone","color":"#222","strokeWidth":1},
      "encoding":{"y":{"field":"y","type":"quantitative","scale":{"domain":[-20,140],"nice":false,"zero":false},
        "axis":{"title":["CGRP Release","(% response of 0.3 μM capsaicin)"],"values":[-20,0,20,40,60,80,100,120,140],"labelExpr":"'' + datum.value","tickSize":4,"labelPadding":5,"titlePadding":11,"titleLineHeight":19,"labelOverlap":false}},
       "detail":{"field":"s"}}},
     {"data":{"name":"pts"},"transform":[{"filter":{"field":"p","equal":"E"}}],
      "mark":{"type":"rule","color":"#888","strokeWidth":1},
      "encoding":{"y":{"field":"lo","type":"quantitative","scale":{"domain":[-20,140],"nice":false,"zero":false},
        "axis":{"title":["CGRP Release","(% response of 0.3 μM capsaicin)"],"values":[-20,0,20,40,60,80,100,120,140],"labelExpr":"'' + datum.value","tickSize":4,"labelPadding":5,"titlePadding":11,"titleLineHeight":19,"labelOverlap":false}},"y2":{"field":"hi"}}},
     {"data":{"name":"pts"},"transform":[{"filter":{"field":"p","equal":"E"}}],
      "mark":{"type":"tick","orient":"horizontal","size":7,"thickness":1,"color":"#888"},
      "encoding":{"y":{"field":"lo","type":"quantitative","scale":{"domain":[-20,140],"nice":false,"zero":false},
        "axis":{"title":["CGRP Release","(% response of 0.3 μM capsaicin)"],"values":[-20,0,20,40,60,80,100,120,140],"labelExpr":"'' + datum.value","tickSize":4,"labelPadding":5,"titlePadding":11,"titleLineHeight":19,"labelOverlap":false}}}},
     {"data":{"name":"pts"},"transform":[{"filter":{"field":"p","equal":"E"}}],
      "mark":{"type":"tick","orient":"horizontal","size":7,"thickness":1,"color":"#888"},
      "encoding":{"y":{"field":"hi","type":"quantitative","scale":{"domain":[-20,140],"nice":false,"zero":false},
        "axis":{"title":["CGRP Release","(% response of 0.3 μM capsaicin)"],"values":[-20,0,20,40,60,80,100,120,140],"labelExpr":"'' + datum.value","tickSize":4,"labelPadding":5,"titlePadding":11,"titleLineHeight":19,"labelOverlap":false}}}},
     {"data":{"name":"pts"},"transform":[{"filter":{"field":"p","equal":"E"}}],
      "mark":{"type":"point","filled":true,"opacity":1,"strokeWidth":1,"size":28},
      "encoding":{"y":{"field":"y","type":"quantitative","scale":{"domain":[-20,140],"nice":false,"zero":false},
        "axis":{"title":["CGRP Release","(% response of 0.3 μM capsaicin)"],"values":[-20,0,20,40,60,80,100,120,140],"labelExpr":"'' + datum.value","tickSize":4,"labelPadding":5,"titlePadding":11,"titleLineHeight":19,"labelOverlap":false}},
       "shape":{"field":"s","type":"nominal","scale":{"domain":["NADA","NADA + 10 nM PDBu","NADA + 1 μM BCTC"],"range":["circle","triangle-down","square"]},"legend":{"title":null,"legendX":13,"legendY":-18,"labelOffset":13}},
       "fill":{"field":"s","type":"nominal","scale":{"domain":["NADA","NADA + 10 nM PDBu","NADA + 1 μM BCTC"],"range":["black","white","black"]},"legend":{"title":null,"legendX":13,"legendY":-18,"labelOffset":13}},
       "stroke":{"field":"s","type":"nominal","scale":{"domain":["NADA","NADA + 10 nM PDBu","NADA + 1 μM BCTC"],"range":["black","black","black"]},"legend":{"title":null,"legendX":13,"legendY":-18,"labelOffset":13}}}}
    ]},
   {"width":243,"height":174,"title":{"text":"G","dx":-16,"offset":-6.5},
    "encoding":{"x":{"field":"x","type":"quantitative","scale":{"domain":[-8,-3],"nice":false,"zero":false},
     "axis":{"title":"Log[Olvanil]/M","values":[-8,-7,-6,-5,-4,-3,-7.699,-7.523,-7.398,-7.301,-7.222,-7.155,-7.097,-7.046,-6.699,-6.523,-6.398,-6.301,-6.222,-6.155,-6.097,-6.046,-5.699,-5.523,-5.398,-5.301,-5.222,-5.155,-5.097,-5.046,-4.699,-4.523,-4.398,-4.301,-4.222,-4.155,-4.097,-4.046,-3.699,-3.523,-3.398,-3.301,-3.222,-3.155,-3.097,-3.046],
      "labelExpr":"datum.value % 1 === 0 ? '' + datum.value : ''","tickSize":{"condition":{"test":"datum.value % 1 === 0","value":4},"value":2},"labelPadding":4,"titlePadding":6,"labelOverlap":false}}},
    "layer":[
     {"data":{"name":"curves"},"transform":[{"filter":{"field":"p","equal":"G"}}],
      "mark":{"type":"line","interpolate":"monotone","color":"#222","strokeWidth":1},
      "encoding":{"y":{"field":"y","type":"quantitative","scale":{"domain":[-30,140],"nice":false,"zero":false},
        "axis":{"title":["CGRP Release","(% response of 0.3 μM capsaicin)"],"values":[-20,0,20,40,60,80,100,120,140],"labelExpr":"'' + datum.value","tickSize":4,"labelPadding":5,"titlePadding":11,"titleLineHeight":19,"labelOverlap":false}},
       "detail":{"field":"s"}}},
     {"data":{"name":"pts"},"transform":[{"filter":{"field":"p","equal":"G"}}],
      "mark":{"type":"rule","color":"#888","strokeWidth":1},
      "encoding":{"y":{"field":"lo","type":"quantitative","scale":{"domain":[-30,140],"nice":false,"zero":false},
        "axis":{"title":["CGRP Release","(% response of 0.3 μM capsaicin)"],"values":[-20,0,20,40,60,80,100,120,140],"labelExpr":"'' + datum.value","tickSize":4,"labelPadding":5,"titlePadding":11,"titleLineHeight":19,"labelOverlap":false}},"y2":{"field":"hi"}}},
     {"data":{"name":"pts"},"transform":[{"filter":{"field":"p","equal":"G"}}],
      "mark":{"type":"tick","orient":"horizontal","size":7,"thickness":1,"color":"#888"},
      "encoding":{"y":{"field":"lo","type":"quantitative","scale":{"domain":[-30,140],"nice":false,"zero":false},
        "axis":{"title":["CGRP Release","(% response of 0.3 μM capsaicin)"],"values":[-20,0,20,40,60,80,100,120,140],"labelExpr":"'' + datum.value","tickSize":4,"labelPadding":5,"titlePadding":11,"titleLineHeight":19,"labelOverlap":false}}}},
     {"data":{"name":"pts"},"transform":[{"filter":{"field":"p","equal":"G"}}],
      "mark":{"type":"tick","orient":"horizontal","size":7,"thickness":1,"color":"#888"},
      "encoding":{"y":{"field":"hi","type":"quantitative","scale":{"domain":[-30,140],"nice":false,"zero":false},
        "axis":{"title":["CGRP Release","(% response of 0.3 μM capsaicin)"],"values":[-20,0,20,40,60,80,100,120,140],"labelExpr":"'' + datum.value","tickSize":4,"labelPadding":5,"titlePadding":11,"titleLineHeight":19,"labelOverlap":false}}}},
     {"data":{"name":"pts"},"transform":[{"filter":{"field":"p","equal":"G"}}],
      "mark":{"type":"point","filled":true,"opacity":1,"strokeWidth":1,"size":28},
      "encoding":{"y":{"field":"y","type":"quantitative","scale":{"domain":[-30,140],"nice":false,"zero":false},
        "axis":{"title":["CGRP Release","(% response of 0.3 μM capsaicin)"],"values":[-20,0,20,40,60,80,100,120,140],"labelExpr":"'' + datum.value","tickSize":4,"labelPadding":5,"titlePadding":11,"titleLineHeight":19,"labelOverlap":false}},
       "shape":{"field":"s","type":"nominal","scale":{"domain":["Olvanil","Olvanil + 10 nM PDBu","Olvanil + 1 μM BCTC"],"range":["circle","triangle-down","square"]},"legend":{"title":null,"legendX":18,"legendY":-20,"labelOffset":11}},
       "fill":{"field":"s","type":"nominal","scale":{"domain":["Olvanil","Olvanil + 10 nM PDBu","Olvanil + 1 μM BCTC"],"range":["black","white","black"]},"legend":{"title":null,"legendX":18,"legendY":-20,"labelOffset":11}},
       "stroke":{"field":"s","type":"nominal","scale":{"domain":["Olvanil","Olvanil + 10 nM PDBu","Olvanil + 1 μM BCTC"],"range":["black","black","black"]},"legend":{"title":null,"legendX":18,"legendY":-20,"labelOffset":11}}}}
    ]}
   ]}
  ]}
 ]},
{"bounds":"flush","spacing":80,
 "resolve":{"scale":{"shape":"independent","fill":"independent","stroke":"independent","strokeDash":"independent"},"legend":{"shape":"independent","fill":"independent","stroke":"independent"}},
 "vconcat":[
 {"width":243,"height":174,"title":{"text":"B","dx":-10,"offset":-11.5},
  "encoding":{"x":{"field":"x","type":"quantitative","scale":{"domain":[-11,-6],"nice":false,"zero":false},
   "axis":{"title":"Log[RTX]/M","values":[-11,-10,-9,-8,-7,-6,-10.699,-10.523,-10.398,-10.301,-10.222,-10.155,-10.097,-10.046,-9.699,-9.523,-9.398,-9.301,-9.222,-9.155,-9.097,-9.046,-8.699,-8.523,-8.398,-8.301,-8.222,-8.155,-8.097,-8.046,-7.699,-7.523,-7.398,-7.301,-7.222,-7.155,-7.097,-7.046,-6.699,-6.523,-6.398,-6.301,-6.222,-6.155,-6.097,-6.046],
    "labelExpr":"datum.value % 1 === 0 ? '' + datum.value : ''","tickSize":{"condition":{"test":"datum.value % 1 === 0","value":4},"value":2},"labelPadding":4,"titlePadding":6,"labelOverlap":false}}},
  "layer":[
   {"data":{"name":"curves"},"transform":[{"filter":{"field":"p","equal":"B"}}],
    "mark":{"type":"line","interpolate":"monotone","color":"#222","strokeWidth":1},
    "encoding":{"y":{"field":"y","type":"quantitative","scale":{"domain":[-20,140],"nice":false,"zero":false},
      "axis":{"title":["CGRP Release","(% response of 0.3 μM capsaicin)"],"values":[-20,0,20,40,60,80,100,120,140],"labelExpr":"'' + datum.value","tickSize":4,"labelPadding":5,"titlePadding":11,"titleLineHeight":19,"labelOverlap":false}},
     "detail":{"field":"s"}}},
   {"data":{"name":"pts"},"transform":[{"filter":{"field":"p","equal":"B"}}],
    "mark":{"type":"rule","color":"#888","strokeWidth":1},
    "encoding":{"y":{"field":"lo","type":"quantitative","scale":{"domain":[-20,140],"nice":false,"zero":false},
      "axis":{"title":["CGRP Release","(% response of 0.3 μM capsaicin)"],"values":[-20,0,20,40,60,80,100,120,140],"labelExpr":"'' + datum.value","tickSize":4,"labelPadding":5,"titlePadding":11,"titleLineHeight":19,"labelOverlap":false}},"y2":{"field":"hi"}}},
   {"data":{"name":"pts"},"transform":[{"filter":{"field":"p","equal":"B"}}],
    "mark":{"type":"tick","orient":"horizontal","size":7,"thickness":1,"color":"#888"},
    "encoding":{"y":{"field":"lo","type":"quantitative","scale":{"domain":[-20,140],"nice":false,"zero":false},
      "axis":{"title":["CGRP Release","(% response of 0.3 μM capsaicin)"],"values":[-20,0,20,40,60,80,100,120,140],"labelExpr":"'' + datum.value","tickSize":4,"labelPadding":5,"titlePadding":11,"titleLineHeight":19,"labelOverlap":false}}}},
   {"data":{"name":"pts"},"transform":[{"filter":{"field":"p","equal":"B"}}],
    "mark":{"type":"tick","orient":"horizontal","size":7,"thickness":1,"color":"#888"},
    "encoding":{"y":{"field":"hi","type":"quantitative","scale":{"domain":[-20,140],"nice":false,"zero":false},
      "axis":{"title":["CGRP Release","(% response of 0.3 μM capsaicin)"],"values":[-20,0,20,40,60,80,100,120,140],"labelExpr":"'' + datum.value","tickSize":4,"labelPadding":5,"titlePadding":11,"titleLineHeight":19,"labelOverlap":false}}}},
   {"data":{"name":"pts"},"transform":[{"filter":{"field":"p","equal":"B"}}],
    "mark":{"type":"point","filled":true,"opacity":1,"strokeWidth":1,"size":28},
    "encoding":{"y":{"field":"y","type":"quantitative","scale":{"domain":[-20,140],"nice":false,"zero":false},
      "axis":{"title":["CGRP Release","(% response of 0.3 μM capsaicin)"],"values":[-20,0,20,40,60,80,100,120,140],"labelExpr":"'' + datum.value","tickSize":4,"labelPadding":5,"titlePadding":11,"titleLineHeight":19,"labelOverlap":false}},
     "shape":{"field":"s","type":"nominal","scale":{"domain":["RTX","RTX + 10 nM PDBu","RTX + 1 μM BCTC"],"range":["circle","triangle-down","square"]},"legend":{"title":null,"legendX":9,"legendY":-30,"labelOffset":10}},
     "fill":{"field":"s","type":"nominal","scale":{"domain":["RTX","RTX + 10 nM PDBu","RTX + 1 μM BCTC"],"range":["black","white","black"]},"legend":{"title":null,"legendX":9,"legendY":-30,"labelOffset":10}},
     "stroke":{"field":"s","type":"nominal","scale":{"domain":["RTX","RTX + 10 nM PDBu","RTX + 1 μM BCTC"],"range":["black","black","black"]},"legend":{"title":null,"legendX":9,"legendY":-30,"labelOffset":10}}}}
  ]},
 {"bounds":"flush","spacing":76,
  "resolve":{"scale":{"shape":"independent","fill":"independent","stroke":"independent","strokeDash":"independent"},"legend":{"shape":"independent","fill":"independent","stroke":"independent"}},
  "vconcat":[
  {"width":243,"height":174,"title":{"text":"D","dx":-11,"offset":-7.5},
   "encoding":{"x":{"field":"x","type":"quantitative","scale":{"domain":[-8,-3],"nice":false,"zero":false},
    "axis":{"title":"Log[OLDA]/M","values":[-8,-7,-6,-5,-4,-3,-7.699,-7.523,-7.398,-7.301,-7.222,-7.155,-7.097,-7.046,-6.699,-6.523,-6.398,-6.301,-6.222,-6.155,-6.097,-6.046,-5.699,-5.523,-5.398,-5.301,-5.222,-5.155,-5.097,-5.046,-4.699,-4.523,-4.398,-4.301,-4.222,-4.155,-4.097,-4.046,-3.699,-3.523,-3.398,-3.301,-3.222,-3.155,-3.097,-3.046],
     "labelExpr":"datum.value % 1 === 0 ? '' + datum.value : ''","tickSize":{"condition":{"test":"datum.value % 1 === 0","value":4},"value":2},"labelPadding":4,"titlePadding":6,"labelOverlap":false}}},
   "layer":[
    {"data":{"name":"curves"},"transform":[{"filter":{"field":"p","equal":"D"}}],
     "mark":{"type":"line","interpolate":"monotone","color":"#222","strokeWidth":1},
     "encoding":{"y":{"field":"y","type":"quantitative","scale":{"domain":[-40,140],"nice":false,"zero":false},
       "axis":{"title":["CGRP Release","(% response of 0.3 μM capsaicin)"],"values":[-40,-20,0,20,40,60,80,100,120,140],"labelExpr":"'' + datum.value","tickSize":4,"labelPadding":5,"titlePadding":11,"titleLineHeight":19,"labelOverlap":false}},
      "detail":{"field":"s"}}},
    {"data":{"name":"pts"},"transform":[{"filter":{"field":"p","equal":"D"}}],
     "mark":{"type":"rule","color":"#888","strokeWidth":1},
     "encoding":{"y":{"field":"lo","type":"quantitative","scale":{"domain":[-40,140],"nice":false,"zero":false},
       "axis":{"title":["CGRP Release","(% response of 0.3 μM capsaicin)"],"values":[-40,-20,0,20,40,60,80,100,120,140],"labelExpr":"'' + datum.value","tickSize":4,"labelPadding":5,"titlePadding":11,"titleLineHeight":19,"labelOverlap":false}},"y2":{"field":"hi"}}},
    {"data":{"name":"pts"},"transform":[{"filter":{"field":"p","equal":"D"}}],
     "mark":{"type":"tick","orient":"horizontal","size":7,"thickness":1,"color":"#888"},
     "encoding":{"y":{"field":"lo","type":"quantitative","scale":{"domain":[-40,140],"nice":false,"zero":false},
       "axis":{"title":["CGRP Release","(% response of 0.3 μM capsaicin)"],"values":[-40,-20,0,20,40,60,80,100,120,140],"labelExpr":"'' + datum.value","tickSize":4,"labelPadding":5,"titlePadding":11,"titleLineHeight":19,"labelOverlap":false}}}},
    {"data":{"name":"pts"},"transform":[{"filter":{"field":"p","equal":"D"}}],
     "mark":{"type":"tick","orient":"horizontal","size":7,"thickness":1,"color":"#888"},
     "encoding":{"y":{"field":"hi","type":"quantitative","scale":{"domain":[-40,140],"nice":false,"zero":false},
       "axis":{"title":["CGRP Release","(% response of 0.3 μM capsaicin)"],"values":[-40,-20,0,20,40,60,80,100,120,140],"labelExpr":"'' + datum.value","tickSize":4,"labelPadding":5,"titlePadding":11,"titleLineHeight":19,"labelOverlap":false}}}},
    {"data":{"name":"pts"},"transform":[{"filter":{"field":"p","equal":"D"}}],
     "mark":{"type":"point","filled":true,"opacity":1,"strokeWidth":1,"size":28},
     "encoding":{"y":{"field":"y","type":"quantitative","scale":{"domain":[-40,140],"nice":false,"zero":false},
       "axis":{"title":["CGRP Release","(% response of 0.3 μM capsaicin)"],"values":[-40,-20,0,20,40,60,80,100,120,140],"labelExpr":"'' + datum.value","tickSize":4,"labelPadding":5,"titlePadding":11,"titleLineHeight":19,"labelOverlap":false}},
      "shape":{"field":"s","type":"nominal","scale":{"domain":["OLDA","OLDA + 10 nM PDBu","OLDA + 1 μM BCTC"],"range":["circle","triangle-down","square"]},"legend":{"title":null,"legendX":18,"legendY":-20,"labelOffset":13}},
      "fill":{"field":"s","type":"nominal","scale":{"domain":["OLDA","OLDA + 10 nM PDBu","OLDA + 1 μM BCTC"],"range":["black","white","black"]},"legend":{"title":null,"legendX":18,"legendY":-20,"labelOffset":13}},
      "stroke":{"field":"s","type":"nominal","scale":{"domain":["OLDA","OLDA + 10 nM PDBu","OLDA + 1 μM BCTC"],"range":["black","black","black"]},"legend":{"title":null,"legendX":18,"legendY":-20,"labelOffset":13}}}}
   ]},
  {"bounds":"flush","spacing":83,
   "resolve":{"scale":{"shape":"independent","fill":"independent","stroke":"independent","strokeDash":"independent"},"legend":{"shape":"independent","fill":"independent","stroke":"independent"}},
   "vconcat":[
   {"width":243,"height":174,"title":{"text":"F","dx":-11,"offset":-3},
    "encoding":{"x":{"field":"x","type":"quantitative","scale":{"domain":[-8,-3],"nice":false,"zero":false},
     "axis":{"title":"Log[Anandamide]/M","values":[-8,-7,-6,-5,-4,-3,-7.699,-7.523,-7.398,-7.301,-7.222,-7.155,-7.097,-7.046,-6.699,-6.523,-6.398,-6.301,-6.222,-6.155,-6.097,-6.046,-5.699,-5.523,-5.398,-5.301,-5.222,-5.155,-5.097,-5.046,-4.699,-4.523,-4.398,-4.301,-4.222,-4.155,-4.097,-4.046,-3.699,-3.523,-3.398,-3.301,-3.222,-3.155,-3.097,-3.046],
      "labelExpr":"datum.value % 1 === 0 ? '' + datum.value : ''","tickSize":{"condition":{"test":"datum.value % 1 === 0","value":4},"value":2},"labelPadding":4,"titlePadding":6,"labelOverlap":false}}},
    "layer":[
     {"data":{"name":"curves"},"transform":[{"filter":{"field":"p","equal":"F"}}],
      "mark":{"type":"line","interpolate":"monotone","color":"#222","strokeWidth":1},
      "encoding":{"y":{"field":"y","type":"quantitative","scale":{"domain":[-20,140],"nice":false,"zero":false},
        "axis":{"title":["CGRP Release","(% response of 0.3 μM capsaicin)"],"values":[-20,0,20,40,60,80,100,120,140],"labelExpr":"'' + datum.value","tickSize":4,"labelPadding":5,"titlePadding":11,"titleLineHeight":19,"labelOverlap":false}},
       "detail":{"field":"s"}}},
     {"data":{"name":"pts"},"transform":[{"filter":{"field":"p","equal":"F"}}],
      "mark":{"type":"rule","color":"#888","strokeWidth":1},
      "encoding":{"y":{"field":"lo","type":"quantitative","scale":{"domain":[-20,140],"nice":false,"zero":false},
        "axis":{"title":["CGRP Release","(% response of 0.3 μM capsaicin)"],"values":[-20,0,20,40,60,80,100,120,140],"labelExpr":"'' + datum.value","tickSize":4,"labelPadding":5,"titlePadding":11,"titleLineHeight":19,"labelOverlap":false}},"y2":{"field":"hi"}}},
     {"data":{"name":"pts"},"transform":[{"filter":{"field":"p","equal":"F"}}],
      "mark":{"type":"tick","orient":"horizontal","size":7,"thickness":1,"color":"#888"},
      "encoding":{"y":{"field":"lo","type":"quantitative","scale":{"domain":[-20,140],"nice":false,"zero":false},
        "axis":{"title":["CGRP Release","(% response of 0.3 μM capsaicin)"],"values":[-20,0,20,40,60,80,100,120,140],"labelExpr":"'' + datum.value","tickSize":4,"labelPadding":5,"titlePadding":11,"titleLineHeight":19,"labelOverlap":false}}}},
     {"data":{"name":"pts"},"transform":[{"filter":{"field":"p","equal":"F"}}],
      "mark":{"type":"tick","orient":"horizontal","size":7,"thickness":1,"color":"#888"},
      "encoding":{"y":{"field":"hi","type":"quantitative","scale":{"domain":[-20,140],"nice":false,"zero":false},
        "axis":{"title":["CGRP Release","(% response of 0.3 μM capsaicin)"],"values":[-20,0,20,40,60,80,100,120,140],"labelExpr":"'' + datum.value","tickSize":4,"labelPadding":5,"titlePadding":11,"titleLineHeight":19,"labelOverlap":false}}}},
     {"data":{"name":"pts"},"transform":[{"filter":{"field":"p","equal":"F"}}],
      "mark":{"type":"point","filled":true,"opacity":1,"strokeWidth":1,"size":28},
      "encoding":{"y":{"field":"y","type":"quantitative","scale":{"domain":[-20,140],"nice":false,"zero":false},
        "axis":{"title":["CGRP Release","(% response of 0.3 μM capsaicin)"],"values":[-20,0,20,40,60,80,100,120,140],"labelExpr":"'' + datum.value","tickSize":4,"labelPadding":5,"titlePadding":11,"titleLineHeight":19,"labelOverlap":false}},
       "shape":{"field":"s","type":"nominal","scale":{"domain":["Anandamide","Anandamide + 10 nM PDBu","Anandamide + 1 μM BCTC"],"range":["circle","triangle-down","square"]},"legend":{"title":null,"legendX":11,"legendY":-20,"labelOffset":13}},
       "fill":{"field":"s","type":"nominal","scale":{"domain":["Anandamide","Anandamide + 10 nM PDBu","Anandamide + 1 μM BCTC"],"range":["black","white","black"]},"legend":{"title":null,"legendX":11,"legendY":-20,"labelOffset":13}},
       "stroke":{"field":"s","type":"nominal","scale":{"domain":["Anandamide","Anandamide + 10 nM PDBu","Anandamide + 1 μM BCTC"],"range":["black","black","black"]},"legend":{"title":null,"legendX":11,"legendY":-20,"labelOffset":13}}}}
    ]},
   {"width":243,"height":174,"title":{"text":"H","dx":-10,"offset":-7.5},
    "encoding":{"x":{"field":"x","type":"quantitative","scale":{"domain":[-10,-4],"nice":false,"zero":false},
     "axis":{"title":"Log[9-HODE]/M","values":[-10,-9,-8,-7,-6,-5,-4,-9.699,-9.523,-9.398,-9.301,-9.222,-9.155,-9.097,-9.046,-8.699,-8.523,-8.398,-8.301,-8.222,-8.155,-8.097,-8.046,-7.699,-7.523,-7.398,-7.301,-7.222,-7.155,-7.097,-7.046,-6.699,-6.523,-6.398,-6.301,-6.222,-6.155,-6.097,-6.046,-5.699,-5.523,-5.398,-5.301,-5.222,-5.155,-5.097,-5.046,-4.699,-4.523,-4.398,-4.301,-4.222,-4.155,-4.097,-4.046],
      "labelExpr":"datum.value % 1 === 0 ? '' + datum.value : ''","tickSize":{"condition":{"test":"datum.value % 1 === 0","value":4},"value":2},"labelPadding":4,"titlePadding":16,"labelOverlap":false}}},
    "layer":[
     {"data":{"name":"curves"},"transform":[{"filter":{"field":"p","equal":"H"}}],
      "mark":{"type":"line","interpolate":"monotone","color":"#222","strokeWidth":1},
      "encoding":{"y":{"field":"y","type":"quantitative","scale":{"domain":[-20,140],"nice":false,"zero":false},
        "axis":{"title":["CGRP Release","(% response of 0.3 μM capsaicin)"],"values":[-20,0,20,40,60,80,100,120,140],"labelExpr":"'' + datum.value","tickSize":4,"labelPadding":5,"titlePadding":11,"titleLineHeight":19,"labelOverlap":false}},
       "detail":{"field":"s"}}},
     {"data":{"name":"pts"},"transform":[{"filter":{"field":"p","equal":"H"}}],
      "mark":{"type":"rule","color":"#888","strokeWidth":1},
      "encoding":{"y":{"field":"lo","type":"quantitative","scale":{"domain":[-20,140],"nice":false,"zero":false},
        "axis":{"title":["CGRP Release","(% response of 0.3 μM capsaicin)"],"values":[-20,0,20,40,60,80,100,120,140],"labelExpr":"'' + datum.value","tickSize":4,"labelPadding":5,"titlePadding":11,"titleLineHeight":19,"labelOverlap":false}},"y2":{"field":"hi"}}},
     {"data":{"name":"pts"},"transform":[{"filter":{"field":"p","equal":"H"}}],
      "mark":{"type":"tick","orient":"horizontal","size":7,"thickness":1,"color":"#888"},
      "encoding":{"y":{"field":"lo","type":"quantitative","scale":{"domain":[-20,140],"nice":false,"zero":false},
        "axis":{"title":["CGRP Release","(% response of 0.3 μM capsaicin)"],"values":[-20,0,20,40,60,80,100,120,140],"labelExpr":"'' + datum.value","tickSize":4,"labelPadding":5,"titlePadding":11,"titleLineHeight":19,"labelOverlap":false}}}},
     {"data":{"name":"pts"},"transform":[{"filter":{"field":"p","equal":"H"}}],
      "mark":{"type":"tick","orient":"horizontal","size":7,"thickness":1,"color":"#888"},
      "encoding":{"y":{"field":"hi","type":"quantitative","scale":{"domain":[-20,140],"nice":false,"zero":false},
        "axis":{"title":["CGRP Release","(% response of 0.3 μM capsaicin)"],"values":[-20,0,20,40,60,80,100,120,140],"labelExpr":"'' + datum.value","tickSize":4,"labelPadding":5,"titlePadding":11,"titleLineHeight":19,"labelOverlap":false}}}},
     {"data":{"name":"pts"},"transform":[{"filter":{"field":"p","equal":"H"}}],
      "mark":{"type":"point","filled":true,"opacity":1,"strokeWidth":1,"size":28},
      "encoding":{"y":{"field":"y","type":"quantitative","scale":{"domain":[-20,140],"nice":false,"zero":false},
        "axis":{"title":["CGRP Release","(% response of 0.3 μM capsaicin)"],"values":[-20,0,20,40,60,80,100,120,140],"labelExpr":"'' + datum.value","tickSize":4,"labelPadding":5,"titlePadding":11,"titleLineHeight":19,"labelOverlap":false}},
       "shape":{"field":"s","type":"nominal","scale":{"domain":["9-HODE","9-HODE + 10 nM PDBu","9-HODE + 1 μM BCTC"],"range":["circle","triangle-down","square"]},"legend":{"title":null,"legendX":21,"legendY":-23,"labelOffset":12}},
       "fill":{"field":"s","type":"nominal","scale":{"domain":["9-HODE","9-HODE + 10 nM PDBu","9-HODE + 1 μM BCTC"],"range":["black","white","black"]},"legend":{"title":null,"legendX":21,"legendY":-23,"labelOffset":12}},
       "stroke":{"field":"s","type":"nominal","scale":{"domain":["9-HODE","9-HODE + 10 nM PDBu","9-HODE + 1 μM BCTC"],"range":["black","black","black"]},"legend":{"title":null,"legendX":21,"legendY":-23,"labelOffset":12}}}}
    ]}
   ]}
  ]}
 ]}
]
}
